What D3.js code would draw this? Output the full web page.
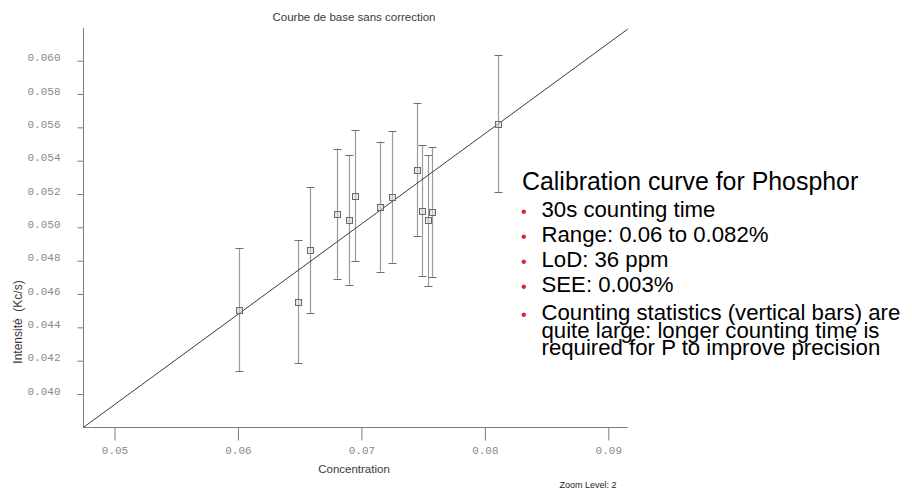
<!DOCTYPE html>
<html>
<head>
<meta charset="utf-8">
<script src="https://cdn.jsdelivr.net/npm/d3@7"></script>
<style>
  html, body { margin: 0; padding: 0; background: #fff; }
  svg { display: block; }
</style>
</head>
<body>
<svg id="chart" width="912" height="491"></svg>
<script>
// Calibration standards: concentration (%) vs measured intensity (Kc/s)
const concentration = [0.0601, 0.0649, 0.0658, 0.0680, 0.0690, 0.0695, 0.0715, 0.0725, 0.0745, 0.0749, 0.0754, 0.0757, 0.0811];
const intensity     = [0.04507, 0.04554, 0.04863, 0.05083, 0.05046, 0.05191, 0.05125, 0.05183, 0.05347, 0.05101, 0.05041, 0.05093, 0.05621];
// Counting-statistics uncertainty (half length of each vertical bar)
const countingError = [0.00369, 0.00369, 0.00377, 0.00390, 0.00390, 0.00395, 0.00390, 0.00395, 0.00400, 0.00393, 0.00393, 0.00390, 0.00410];

// Fitted calibration line: intensity = intercept + slope * concentration
const fitSlope = 0.542;
const fitIntercept = 0.01226;

// Axis ticks
const xTicks = [0.05, 0.06, 0.07, 0.08, 0.09];
const yTicks = [0.040, 0.042, 0.044, 0.046, 0.048, 0.050, 0.052, 0.054, 0.056, 0.058, 0.060];

// Text
const chartTitle = "Courbe de base sans correction";
const xTitle = "Concentration";
const yTitle = "Intensité\u00a0\u00a0(Kc/s)";
const zoomNote = "Zoom Level: 2";
const noteHeading = "Calibration curve for Phosphor";
const noteBullets = [
  ["30s counting time"],
  ["Range: 0.06 to 0.082%"],
  ["LoD: 36 ppm"],
  ["SEE: 0.003%"],
  ["Counting statistics (vertical bars) are", "quite large: longer counting time is", "required for P to improve precision"]
];

const svg = d3.select("#chart");
const plotLeft = 83.5, plotRight = 627.7, plotTop = 28, plotBottom = 427.5;

const x = d3.scaleLinear().domain([0.04749, 0.09157]).range([plotLeft, plotRight]);
const y = d3.scaleLinear().domain([0.03799, 0.06196]).range([plotBottom, plotTop]);

const monoFont = "'Liberation Mono', 'Courier New', monospace";
const sansFont = "'Liberation Sans', Arial, Helvetica, sans-serif";

// Y axis
const yAxis = svg.append("g")
  .attr("transform", `translate(${plotLeft},0)`)
  .call(d3.axisLeft(y).tickValues(yTicks).tickFormat(d3.format(".3f")).tickSize(6).tickPadding(17));
yAxis.select(".domain").remove();
yAxis.selectAll(".tick line").attr("stroke", "#7c7c7c");
yAxis.selectAll(".tick text")
  .attr("dy", "0.02em")
  .attr("fill", "#8a8a8a")
  .style("font-family", monoFont)
  .style("font-size", "11px");
svg.append("line")
  .attr("x1", plotLeft).attr("x2", plotLeft)
  .attr("y1", plotTop).attr("y2", plotBottom)
  .attr("stroke", "#7c7c7c");

// X axis
const xAxis = svg.append("g")
  .attr("transform", `translate(0,${plotBottom})`)
  .call(d3.axisBottom(x).tickValues(xTicks).tickFormat(d3.format(".2f")).tickSize(13).tickPadding(6));
xAxis.select(".domain").remove();
xAxis.selectAll(".tick line").attr("stroke", "#7c7c7c");
xAxis.selectAll(".tick text")
  .attr("fill", "#8a8a8a")
  .style("font-family", monoFont)
  .style("font-size", "11px");
svg.append("line")
  .attr("x1", plotLeft).attr("x2", plotRight)
  .attr("y1", plotBottom).attr("y2", plotBottom)
  .attr("stroke", "#7c7c7c");

// Error bars
const points = concentration.map((c, i) => ({ c, v: intensity[i], e: countingError[i] }));
const bars = svg.append("g");
bars.selectAll("line.stem").data(points).join("line")
  .attr("class", "stem")
  .attr("x1", d => Math.round(x(d.c)) + 0.5).attr("x2", d => Math.round(x(d.c)) + 0.5)
  .attr("y1", d => y(d.v + d.e)).attr("y2", d => y(d.v - d.e))
  .attr("stroke", "#9a9a9a").attr("stroke-width", 1.2);
[1, -1].forEach(sign => {
  bars.append("g").selectAll("line").data(points).join("line")
    .attr("x1", d => Math.round(x(d.c)) + 0.5 - 4).attr("x2", d => Math.round(x(d.c)) + 0.5 + 4)
    .attr("y1", d => Math.round(y(d.v + sign * d.e)) + 0.5).attr("y2", d => Math.round(y(d.v + sign * d.e)) + 0.5)
    .attr("stroke", "#6e6e6e").attr("stroke-width", 1);
});

// Calibration line
const xd = x.domain();
svg.append("line")
  .attr("x1", x(xd[0])).attr("y1", y(fitIntercept + fitSlope * xd[0]))
  .attr("x2", x(xd[1])).attr("y2", y(fitIntercept + fitSlope * xd[1]))
  .attr("stroke", "#3a3a3a").attr("stroke-width", 1);

// Markers
svg.append("g").selectAll("rect").data(points).join("rect")
  .attr("x", d => Math.round(x(d.c)) + 0.5 - 3)
  .attr("y", d => Math.round(y(d.v)) + 0.5 - 3)
  .attr("width", 6).attr("height", 6)
  .attr("fill", "#d8d8d8").attr("fill-opacity", 0.6)
  .attr("stroke", "#6a6a6a").attr("stroke-width", 1);

// Titles
svg.append("text").text(chartTitle)
  .attr("x", 354).attr("y", 20.5).attr("text-anchor", "middle")
  .attr("fill", "#3a3a3a").style("font-family", sansFont).style("font-size", "11.5px");
svg.append("text").text(xTitle)
  .attr("x", 354).attr("y", 473).attr("text-anchor", "middle")
  .attr("fill", "#3a3a3a").style("font-family", sansFont).style("font-size", "11.5px");
svg.append("text").text(yTitle)
  .attr("transform", "translate(21.5,322) rotate(-90)").attr("text-anchor", "middle")
  .attr("fill", "#3a3a3a").style("font-family", sansFont).style("font-size", "12px");
svg.append("text").text(zoomNote)
  .attr("x", 588).attr("y", 487.5).attr("text-anchor", "middle")
  .attr("fill", "#222").style("font-family", sansFont).style("font-size", "9px");

// Notes block
const notes = svg.append("g").style("font-family", sansFont).attr("fill", "#000");
notes.append("text").text(noteHeading)
  .attr("x", 522).attr("y", 189.5).style("font-size", "24.9px");
const bulletBaselines = [217, 242, 267, 292, 320];
const wrapStep = 17.5;
noteBullets.forEach((lines, i) => {
  notes.append("text").text("\u2022")
    .attr("x", 521).attr("y", bulletBaselines[i])
    .attr("fill", "#e0202a").style("font-size", "16px");
  // wrapped lines of one bullet share a single text element
  const t = notes.append("text")
    .attr("y", bulletBaselines[i])
    .style("font-size", "22.2px");
  lines.forEach((ln, j) => {
    t.append("tspan").text(ln)
      .attr("x", 541.5).attr("dy", j === 0 ? 0 : wrapStep);
  });
});
</script>
</body>
</html>
